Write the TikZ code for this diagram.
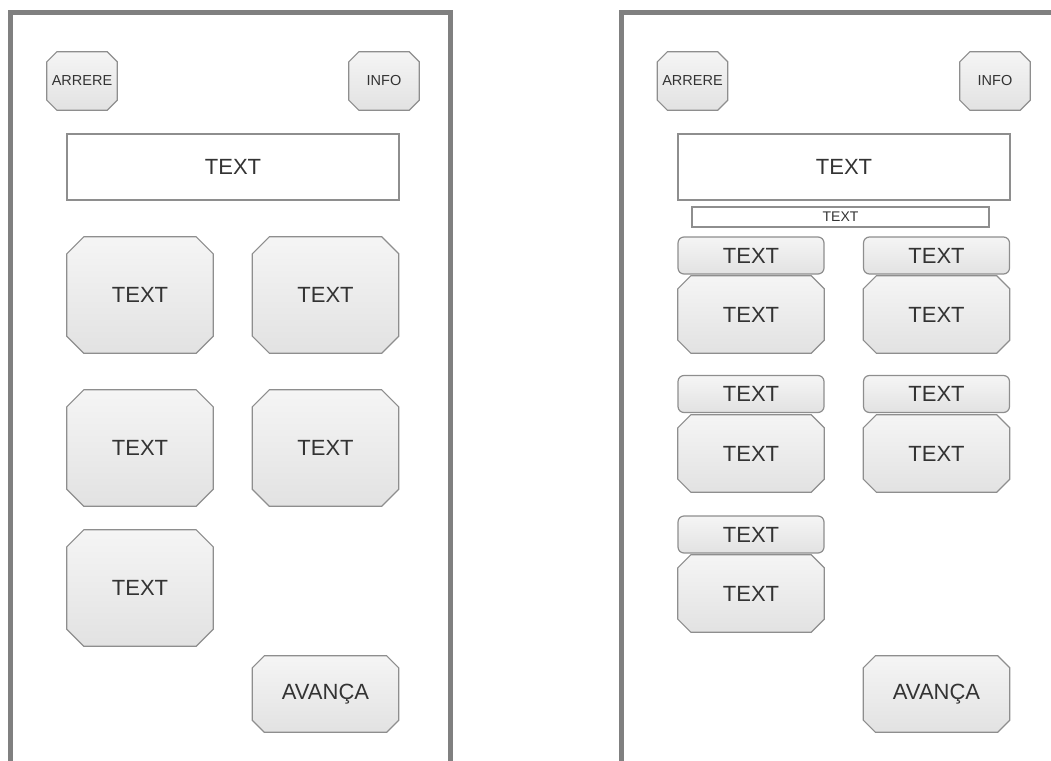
\documentclass[tikz,border=0pt]{standalone}
\usepackage{fontspec}
\setmainfont{Liberation Sans}
\pgfdeclarelayer{background}
\pgfsetlayers{background,main}
\definecolor{framegray}{HTML}{808080}
\definecolor{btnborder}{HTML}{8E8E8E}
\definecolor{btntop}{HTML}{F5F5F5}
\definecolor{btnbot}{HTML}{E2E2E2}
\definecolor{txt}{HTML}{333333}
\tikzset{
  frame/.style={draw=framegray, line width=5pt},
  btnshape/.style={draw=btnborder, line width=1.2pt, top color=btntop, bottom color=btnbot},
  lbl/.style={rectangle, text=txt, inner sep=0pt},
  smallbtn/.style={lbl, minimum width=70pt, minimum height=58pt, font=\fontsize{14.5}{15}\selectfont},
  bigbtn/.style={lbl, minimum width=146pt, minimum height=116pt, font=\fontsize{22}{24}\selectfont},
  lowbtn/.style={lbl, minimum width=146pt, minimum height=77pt, font=\fontsize{22}{24}\selectfont},
  tabbtn/.style={lbl, draw=btnborder, line width=1.2pt, top color=btntop, bottom color=btnbot, rounded corners=6pt, minimum width=146pt, minimum height=37pt, font=\fontsize{22}{24}\selectfont},
  avbtn/.style={lbl, minimum width=146pt, minimum height=76pt, font=\fontsize{22}{24}\selectfont},
  textbox/.style={draw=btnborder, line width=1.2pt, fill=white, text=txt, rectangle, inner sep=0pt, minimum width=332pt, minimum height=66pt, font=\fontsize{22}{24}\selectfont},
  thinbox/.style={draw=btnborder, line width=1.2pt, fill=white, text=txt, rectangle, inner sep=0pt, minimum width=297pt, minimum height=20pt, font=\fontsize{14}{15}\selectfont}
}
\newcommand\octshape[2]{%
  \begin{pgfonlayer}{background}
  \path[btnshape] ([xshift=#2]#1.north west) -- ([xshift=-#2]#1.north east)
    -- ([yshift=-#2]#1.north east) -- ([yshift=#2]#1.south east)
    -- ([xshift=-#2]#1.south east) -- ([xshift=#2]#1.south west)
    -- ([yshift=#2]#1.south west) -- ([yshift=-#2]#1.north west) -- cycle;
  \end{pgfonlayer}}
\begin{document}
\begin{tikzpicture}[x=1pt,y=-1pt]
\useasboundingbox (0,0) rectangle (1051,760);
% frames
\draw[frame] (10,775) -- (10,13) -- (450,13) -- (450,775);
\draw[frame] (621,775) -- (621,13) -- (1065,13);
% left screen
\node[smallbtn] (arrL) at (82,81) {ARRERE}; \octshape{arrL}{10pt}
\node[smallbtn] (infoL) at (384,81) {INFO}; \octshape{infoL}{10pt}
\node[textbox] (textL) at (233,167) {TEXT};
\node[bigbtn] (b1) at (140,295) {TEXT}; \octshape{b1}{17pt}
\node[bigbtn] (b2) at (325.5,295) {TEXT}; \octshape{b2}{17pt}
\node[bigbtn] (b3) at (140,448) {TEXT}; \octshape{b3}{17pt}
\node[bigbtn] (b4) at (325.5,448) {TEXT}; \octshape{b4}{17pt}
\node[bigbtn] (b5) at (140,588) {TEXT}; \octshape{b5}{17pt}
\node[avbtn] (avL) at (325.5,694) {AVANÇA}; \octshape{avL}{12pt}
% right screen
\node[smallbtn] (arrR) at (692.5,81) {ARRERE}; \octshape{arrR}{10pt}
\node[smallbtn] (infoR) at (995,81) {INFO}; \octshape{infoR}{10pt}
\node[textbox] (textR) at (844,167) {TEXT};
\node[thinbox] (thinR) at (840.5,217) {TEXT};
\node[tabbtn] (t1) at (751,255.5) {TEXT};
\node[lowbtn] (l1) at (751,314.5) {TEXT}; \octshape{l1}{13pt}
\node[tabbtn] (t2) at (936.5,255.5) {TEXT};
\node[lowbtn] (l2) at (936.5,314.5) {TEXT}; \octshape{l2}{13pt}
\node[tabbtn] (t3) at (751,394) {TEXT};
\node[lowbtn] (l3) at (751,453.5) {TEXT}; \octshape{l3}{13pt}
\node[tabbtn] (t4) at (936.5,394) {TEXT};
\node[lowbtn] (l4) at (936.5,453.5) {TEXT}; \octshape{l4}{13pt}
\node[tabbtn] (t5) at (751,534.5) {TEXT};
\node[lowbtn] (l5) at (751,593.5) {TEXT}; \octshape{l5}{13pt}
\node[avbtn] (avR) at (936.5,694) {AVANÇA}; \octshape{avR}{12pt}
\end{tikzpicture}
\end{document}
